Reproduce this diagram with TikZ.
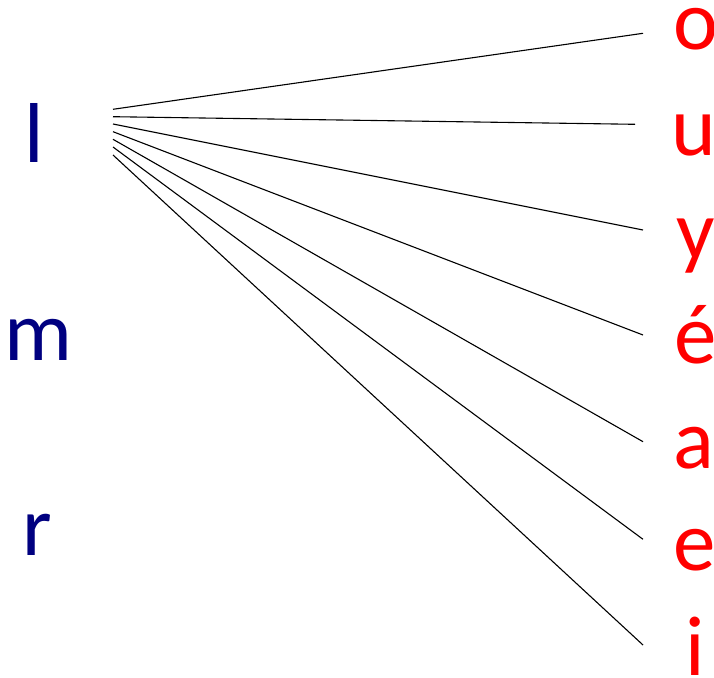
\documentclass[tikz,border=0pt]{standalone}
\usepackage{fontspec}
\setmainfont{Carlito}
\definecolor{navyb}{RGB}{0,0,128}
\definecolor{redv}{RGB}{255,0,0}
\tikzset{
  cons/.style={text=navyb, inner sep=0pt, anchor=base, font=\fontsize{85}{85}\selectfont},
  vow/.style={text=redv, inner sep=0pt, anchor=base, font=\fontsize{85}{85}\selectfont},
  link/.style={line width=1.1pt, black}
}
\begin{document}
\begin{tikzpicture}[x=1pt,y=-1pt]
\useasboundingbox (0,0) rectangle (714,677);
\node[cons] (l) at (34,162) {l};
\node[cons] (m) at (38,360) {m};
\node[cons] (r) at (37.5,555) {r};
\node[vow] (o) at (695.5,50) {o};
\node[vow] (u) at (694,155) {u};
\node[vow] (y) at (696,259) {y};
\node[vow] (e1) at (695.5,363) {é};
\node[vow] (a) at (694,468) {a};
\node[vow] (e) at (695,570) {e};
\node[vow] (i) at (695,675) {i};
\coordinate (s1) at (113,109.3);
\coordinate (s2) at (113,116.7);
\coordinate (s3) at (113,124);
\coordinate (s4) at (113,131.7);
\coordinate (s5) at (113,139.3);
\coordinate (s6) at (113,147);
\coordinate (s7) at (113,155);
\coordinate (to) at (643,33.3);
\coordinate (tu) at (635,124.3);
\coordinate (ty) at (643,230);
\coordinate (te1) at (643,335);
\coordinate (ta) at (643,441.7);
\coordinate (te) at (643,539.3);
\coordinate (ti) at (643,645);
\draw[link] (s1) -- (to);
\draw[link] (s2) -- (tu);
\draw[link] (s3) -- (ty);
\draw[link] (s4) -- (te1);
\draw[link] (s5) -- (ta);
\draw[link] (s6) -- (te);
\draw[link] (s7) -- (ti);
\end{tikzpicture}
\end{document}
